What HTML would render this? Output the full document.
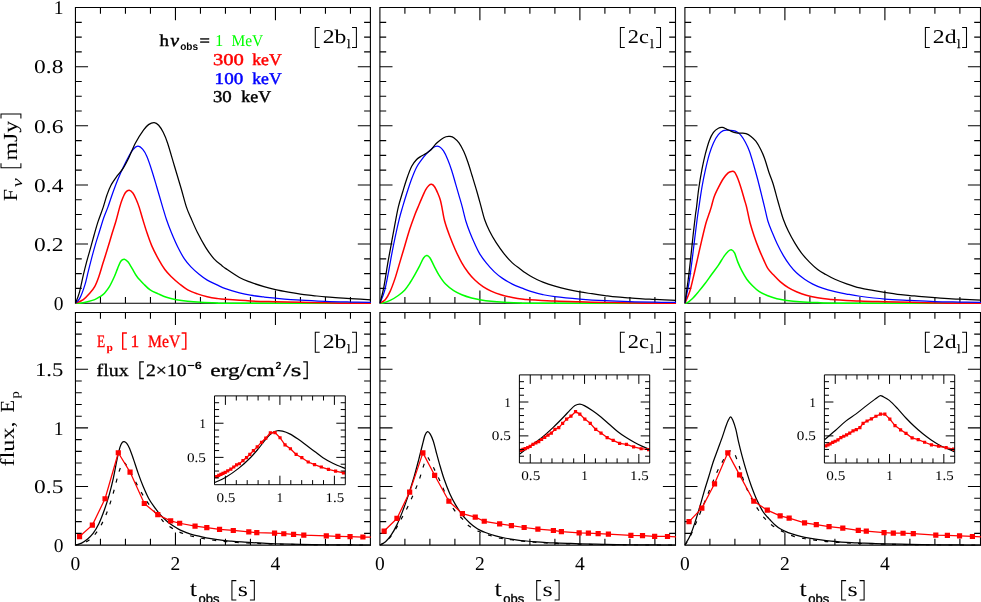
<!DOCTYPE html>
<html><head><meta charset="utf-8"><title>lightcurves</title>
<style>
html,body{margin:0;padding:0;background:#fff;}
body{width:981px;height:602px;overflow:hidden;font-family:"Liberation Serif",serif;}
svg{display:block;}
text{text-rendering:geometricPrecision;}
</style></head><body>
<svg width="981" height="602" viewBox="0 0 981 602" style="will-change:transform;opacity:0.9999">
<rect width="981" height="602" fill="#fff"/>
<clipPath id="ct0"><rect x="74.95" y="7.55" width="295.95" height="296.35"/></clipPath>
<clipPath id="cb0"><rect x="74.95" y="312.50" width="295.95" height="233.30"/></clipPath>
<path d="M75.45,7.55 H370.40 V303.20 H75.45 Z" fill="none" stroke="#000" stroke-width="1.10"/>
<path d="M75.45,312.50 H370.40 V545.10 H75.45 Z" fill="none" stroke="#000" stroke-width="1.10"/>
<path d=" M100.45,303.20 v-6.30 M100.45,7.55 v6.30 M125.45,303.20 v-6.30 M125.45,7.55 v6.30 M150.45,303.20 v-6.30 M150.45,7.55 v6.30 M175.45,303.20 v-12.60 M175.45,7.55 v12.60 M200.45,303.20 v-6.30 M200.45,7.55 v6.30 M225.45,303.20 v-6.30 M225.45,7.55 v6.30 M250.45,303.20 v-6.30 M250.45,7.55 v6.30 M275.45,303.20 v-12.60 M275.45,7.55 v12.60 M300.45,303.20 v-6.30 M300.45,7.55 v6.30 M325.45,303.20 v-6.30 M325.45,7.55 v6.30 M350.45,303.20 v-6.30 M350.45,7.55 v6.30 M75.45,288.42 h6.30 M370.40,288.42 h-6.30 M75.45,273.63 h6.30 M370.40,273.63 h-6.30 M75.45,258.85 h6.30 M370.40,258.85 h-6.30 M75.45,244.07 h12.60 M370.40,244.07 h-12.60 M75.45,229.29 h6.30 M370.40,229.29 h-6.30 M75.45,214.50 h6.30 M370.40,214.50 h-6.30 M75.45,199.72 h6.30 M370.40,199.72 h-6.30 M75.45,184.94 h12.60 M370.40,184.94 h-12.60 M75.45,170.16 h6.30 M370.40,170.16 h-6.30 M75.45,155.38 h6.30 M370.40,155.38 h-6.30 M75.45,140.59 h6.30 M370.40,140.59 h-6.30 M75.45,125.81 h12.60 M370.40,125.81 h-12.60 M75.45,111.03 h6.30 M370.40,111.03 h-6.30 M75.45,96.24 h6.30 M370.40,96.24 h-6.30 M75.45,81.46 h6.30 M370.40,81.46 h-6.30 M75.45,66.68 h12.60 M370.40,66.68 h-12.60 M75.45,51.90 h6.30 M370.40,51.90 h-6.30 M75.45,37.12 h6.30 M370.40,37.12 h-6.30 M75.45,22.33 h6.30 M370.40,22.33 h-6.30" fill="none" stroke="#000" stroke-width="1.10"/>
<path d=" M100.45,545.10 v-6.30 M100.45,312.50 v6.30 M125.45,545.10 v-6.30 M125.45,312.50 v6.30 M150.45,545.10 v-6.30 M150.45,312.50 v6.30 M175.45,545.10 v-12.60 M175.45,312.50 v12.60 M200.45,545.10 v-6.30 M200.45,312.50 v6.30 M225.45,545.10 v-6.30 M225.45,312.50 v6.30 M250.45,545.10 v-6.30 M250.45,312.50 v6.30 M275.45,545.10 v-12.60 M275.45,312.50 v12.60 M300.45,545.10 v-6.30 M300.45,312.50 v6.30 M325.45,545.10 v-6.30 M325.45,312.50 v6.30 M350.45,545.10 v-6.30 M350.45,312.50 v6.30 M75.45,533.38 h6.30 M370.40,533.38 h-6.30 M75.45,521.66 h6.30 M370.40,521.66 h-6.30 M75.45,509.94 h6.30 M370.40,509.94 h-6.30 M75.45,498.22 h6.30 M370.40,498.22 h-6.30 M75.45,486.50 h12.60 M370.40,486.50 h-12.60 M75.45,474.78 h6.30 M370.40,474.78 h-6.30 M75.45,463.06 h6.30 M370.40,463.06 h-6.30 M75.45,451.34 h6.30 M370.40,451.34 h-6.30 M75.45,439.62 h6.30 M370.40,439.62 h-6.30 M75.45,427.90 h12.60 M370.40,427.90 h-12.60 M75.45,416.18 h6.30 M370.40,416.18 h-6.30 M75.45,404.46 h6.30 M370.40,404.46 h-6.30 M75.45,392.74 h6.30 M370.40,392.74 h-6.30 M75.45,381.02 h6.30 M370.40,381.02 h-6.30 M75.45,369.30 h12.60 M370.40,369.30 h-12.60 M75.45,357.58 h6.30 M370.40,357.58 h-6.30 M75.45,345.86 h6.30 M370.40,345.86 h-6.30 M75.45,334.14 h6.30 M370.40,334.14 h-6.30 M75.45,322.42 h6.30 M370.40,322.42 h-6.30" fill="none" stroke="#000" stroke-width="1.10"/>
<g clip-path="url(#ct0)" fill="none" stroke-width="1.25" stroke-linejoin="round">
<path d="M75.45,303.20 C76.21,303.20 78.15,303.40 80.00,303.20 C81.85,303.00 84.10,302.61 86.55,302.02 C89.00,301.43 92.39,300.59 94.70,299.65 C97.01,298.72 98.77,297.48 100.40,296.40 C102.03,295.32 103.00,294.77 104.50,293.15 C106.00,291.52 107.77,289.38 109.40,286.64 C111.03,283.91 112.94,279.75 114.30,276.74 C115.66,273.73 116.47,271.20 117.55,268.61 C118.63,266.02 119.66,262.79 120.80,261.22 C121.94,259.64 123.18,259.00 124.40,259.15 C125.62,259.30 126.85,260.53 128.15,262.10 C129.45,263.68 130.71,266.17 132.20,268.61 C133.69,271.05 135.19,274.18 137.10,276.74 C139.01,279.30 141.48,281.79 143.65,283.98 C145.82,286.18 147.71,288.25 150.15,289.90 C152.59,291.55 155.58,292.66 158.30,293.89 C161.02,295.12 163.46,296.33 166.45,297.29 C169.44,298.25 172.71,298.99 176.25,299.65 C179.79,300.31 183.62,300.82 187.70,301.25 C191.78,301.68 195.86,301.95 200.75,302.22 C205.64,302.50 212.10,302.74 217.05,302.90 C222.00,303.07 204.63,303.15 230.45,303.20 C256.27,303.25 348.37,303.20 371.95,303.20" stroke="#00ff00" stroke-width="1.5"/>
<path d="M75.45,303.20 C76.76,302.61 80.91,301.33 83.30,299.65 C85.69,297.98 87.90,295.32 89.80,293.15 C91.70,290.98 93.20,289.38 94.70,286.64 C96.20,283.91 97.44,280.58 98.80,276.74 C100.16,272.90 101.49,267.94 102.85,263.58 C104.21,259.22 105.45,255.45 106.95,250.57 C108.45,245.70 110.36,239.19 111.85,234.31 C113.34,229.44 114.59,225.84 115.90,221.30 C117.21,216.77 118.61,210.86 119.70,207.11 C120.79,203.37 121.45,201.30 122.45,198.84 C123.45,196.37 124.56,193.76 125.70,192.33 C126.84,190.90 128.08,190.11 129.30,190.26 C130.53,190.41 131.88,191.64 133.05,193.22 C134.22,194.79 135.28,197.41 136.30,199.72 C137.32,202.04 138.07,203.81 139.15,207.11 C140.23,210.42 141.51,215.29 142.80,219.53 C144.09,223.77 145.40,228.15 146.90,232.54 C148.40,236.93 149.90,241.46 151.80,245.84 C153.70,250.23 156.12,254.91 158.30,258.85 C160.48,262.79 162.68,266.51 164.85,269.50 C167.03,272.48 168.90,274.32 171.35,276.74 C173.80,279.15 176.83,281.79 179.55,283.98 C182.28,286.18 184.72,288.25 187.70,289.90 C190.68,291.55 194.19,292.75 197.45,293.89 C200.71,295.02 203.98,295.93 207.25,296.70 C210.52,297.46 214.02,298.03 217.05,298.47 C220.08,298.91 219.88,298.94 225.45,299.36 C231.02,299.78 242.12,300.59 250.45,300.98 C258.78,301.38 267.12,301.50 275.45,301.72 C283.78,301.94 292.12,302.13 300.45,302.31 C308.78,302.50 317.95,302.70 325.45,302.85 C332.95,302.99 337.70,303.14 345.45,303.20 C353.20,303.26 367.53,303.20 371.95,303.20" stroke="#ff0000" stroke-width="1.5"/>
<path d="M75.45,303.20 C76.21,302.31 78.42,300.93 80.00,297.88 C81.58,294.82 83.54,289.21 84.90,284.87 C86.26,280.53 87.06,276.20 88.15,271.86 C89.24,267.52 90.23,263.48 91.45,258.85 C92.67,254.22 94.14,248.70 95.50,244.07 C96.86,239.44 98.24,235.40 99.60,231.06 C100.96,226.73 102.27,222.04 103.65,218.05 C105.03,214.06 106.40,211.25 107.90,207.11 C109.40,202.97 111.04,197.70 112.65,193.22 C114.26,188.73 115.78,184.55 117.55,180.21 C119.32,175.87 121.35,171.24 123.25,167.20 C125.15,163.16 127.32,158.92 128.95,155.97 C130.58,153.01 131.55,151.09 133.05,149.46 C134.55,147.84 136.32,146.21 137.95,146.21 C139.57,146.21 141.31,147.74 142.80,149.46 C144.29,151.19 145.40,153.06 146.90,156.56 C148.40,160.06 150.17,165.43 151.80,170.45 C153.43,175.48 154.89,180.60 156.70,186.71 C158.51,192.82 161.03,201.64 162.65,207.11 C164.28,212.58 165.00,215.29 166.45,219.53 C167.90,223.77 169.44,227.91 171.35,232.54 C173.26,237.17 175.73,242.94 177.90,247.32 C180.07,251.71 182.22,255.60 184.40,258.85 C186.57,262.10 188.50,264.27 190.95,266.84 C193.40,269.40 196.38,272.01 199.10,274.23 C201.82,276.44 204.26,278.37 207.25,280.14 C210.24,281.91 214.02,283.44 217.05,284.87 C220.08,286.30 221.72,287.38 225.45,288.71 C229.18,290.04 235.28,291.77 239.45,292.85 C243.62,293.94 246.37,294.53 250.45,295.22 C254.53,295.91 259.78,296.50 263.95,296.99 C268.12,297.48 269.37,297.63 275.45,298.17 C281.53,298.72 292.12,299.70 300.45,300.24 C308.78,300.79 317.12,301.13 325.45,301.43 C333.78,301.72 342.70,301.87 350.45,302.02 C358.20,302.17 368.37,302.26 371.95,302.31" stroke="#0000ff"/>
<path d="M75.45,303.20 C76.08,301.52 77.89,297.83 79.20,293.15 C80.51,288.47 82.08,280.29 83.30,275.11 C84.52,269.94 85.47,266.19 86.55,262.10 C87.63,258.01 88.57,254.96 89.80,250.57 C91.03,246.19 92.54,240.57 93.90,235.79 C95.26,231.01 96.39,226.68 97.95,221.90 C99.51,217.12 101.75,211.60 103.25,207.11 C104.75,202.63 105.66,198.64 106.95,194.99 C108.24,191.35 109.23,188.49 111.00,185.24 C112.77,181.98 115.51,178.34 117.55,175.48 C119.59,172.62 121.35,171.09 123.25,168.09 C125.15,165.08 126.92,161.63 128.95,157.44 C130.98,153.26 133.00,147.54 135.45,142.96 C137.90,138.38 141.47,133.00 143.65,129.95 C145.83,126.89 146.79,125.86 148.55,124.63 C150.31,123.40 152.52,122.46 154.20,122.56 C155.88,122.66 157.15,123.59 158.65,125.22 C160.15,126.84 161.72,129.36 163.20,132.31 C164.68,135.27 165.69,137.39 167.55,142.96 C169.41,148.53 172.08,158.13 174.35,165.72 C176.62,173.31 179.13,181.59 181.15,188.49 C183.17,195.39 184.82,202.19 186.45,207.11 C188.08,212.04 189.12,213.82 190.95,218.05 C192.78,222.29 195.00,227.66 197.45,232.54 C199.90,237.42 202.93,242.99 205.65,247.32 C208.38,251.66 211.08,255.49 213.80,258.56 C216.52,261.62 220.01,264.08 221.95,265.71 C223.89,267.35 222.53,266.41 225.45,268.37 C228.37,270.33 235.28,275.17 239.45,277.48 C243.62,279.78 246.37,280.68 250.45,282.21 C254.53,283.74 259.78,285.41 263.95,286.64 C268.12,287.88 271.37,288.69 275.45,289.60 C279.53,290.51 284.28,291.37 288.45,292.11 C292.62,292.85 296.37,293.47 300.45,294.03 C304.53,294.60 308.78,295.02 312.95,295.51 C317.12,296.01 321.12,296.60 325.45,296.99 C329.78,297.39 334.78,297.62 338.95,297.88 C343.12,298.14 344.95,298.21 350.45,298.56 C355.95,298.90 368.37,299.72 371.95,299.95" stroke="#000"/>
</g>
<g clip-path="url(#cb0)" fill="none" stroke-width="1.25" stroke-linejoin="round">
<path d="M75.45,545.10 C76.66,544.82 80.41,544.29 82.70,543.43 C84.99,542.57 87.12,541.48 89.20,539.93 C91.28,538.37 93.28,536.43 95.20,534.09 C97.12,531.76 98.95,529.04 100.70,525.92 C102.45,522.81 104.12,519.21 105.70,515.42 C107.28,511.63 108.78,507.45 110.20,503.17 C111.62,498.89 112.95,494.22 114.20,489.75 C115.45,485.28 116.66,480.02 117.70,476.33 C118.74,472.63 119.62,469.81 120.45,467.58 C121.28,465.34 121.99,463.69 122.70,462.91 C123.41,462.13 123.95,462.33 124.70,462.91 C125.45,463.49 126.12,464.66 127.20,466.41 C128.28,468.16 129.70,470.63 131.20,473.41 C132.70,476.19 134.20,479.38 136.20,483.10 C138.20,486.81 141.28,492.45 143.20,495.70 C145.12,498.95 145.87,499.98 147.70,502.59 C149.53,505.19 151.95,508.61 154.20,511.34 C156.45,514.06 159.30,516.85 161.20,518.92 C163.10,520.99 163.17,521.87 165.60,523.77 C168.03,525.67 172.40,528.53 175.80,530.33 C179.20,532.13 182.43,533.39 186.00,534.58 C189.57,535.76 193.46,536.61 197.20,537.42 C200.94,538.24 204.63,538.88 208.45,539.47 C212.27,540.07 216.28,540.56 220.10,541.00 C223.92,541.44 227.52,541.81 231.35,542.11 C235.18,542.42 239.28,542.62 243.10,542.83 C246.93,543.03 248.91,543.14 254.30,543.34 C259.69,543.55 267.76,543.83 275.45,544.05 C283.14,544.26 292.12,544.47 300.45,544.63 C308.78,544.79 313.53,544.90 325.45,544.98 C337.37,545.06 364.20,545.08 371.95,545.10" stroke="#000" stroke-dasharray="3.9 7.4" stroke-width="1.2"/>
<path d="M75.45,545.10 C76.47,544.76 79.58,544.06 81.55,543.08 C83.52,542.10 85.38,540.84 87.30,539.23 C89.22,537.61 91.17,535.97 93.10,533.39 C95.02,530.82 96.93,527.78 98.85,523.77 C100.77,519.75 102.83,514.28 104.60,509.30 C106.37,504.31 108.00,498.98 109.45,493.83 C110.90,488.69 112.03,484.21 113.30,478.43 C114.58,472.65 115.98,464.39 117.10,459.17 C118.22,453.96 119.13,449.94 120.00,447.15 C120.87,444.37 121.60,443.40 122.30,442.49 C123.00,441.57 123.46,441.53 124.20,441.67 C124.94,441.81 125.85,442.16 126.75,443.30 C127.65,444.45 128.48,445.91 129.60,448.56 C130.72,451.20 132.00,454.99 133.45,459.17 C134.90,463.36 136.69,469.13 138.30,473.64 C139.91,478.16 141.34,482.07 143.10,486.25 C144.86,490.43 146.93,495.21 148.85,498.73 C150.77,502.25 152.63,504.64 154.60,507.37 C156.57,510.10 158.68,512.87 160.65,515.10 C162.62,517.32 164.77,519.24 166.40,520.72 C168.03,522.21 168.94,522.91 170.45,524.00 C171.96,525.10 173.79,526.27 175.45,527.29 C177.11,528.30 177.88,528.97 180.40,530.10 C182.93,531.23 187.20,533.00 190.60,534.08 C194.00,535.17 197.41,535.84 200.80,536.60 C204.19,537.36 207.56,538.06 210.95,538.65 C214.34,539.25 217.75,539.75 221.15,540.18 C224.55,540.60 227.95,540.89 231.35,541.20 C234.75,541.50 238.15,541.76 241.55,541.99 C244.95,542.22 248.18,542.38 251.75,542.58 C255.32,542.78 259.00,542.97 262.95,543.17 C266.90,543.36 269.20,543.55 275.45,543.75 C281.70,543.96 292.12,544.23 300.45,544.40 C308.78,544.56 317.12,544.65 325.45,544.75 C333.78,544.85 342.70,544.92 350.45,544.98 C358.20,545.04 368.37,545.08 371.95,545.10" stroke="#000"/>
<path d="M79.55,536.54 L92.35,525.11 L105.05,498.73 L118.30,452.76 L130.05,472.07 L144.30,503.52 L157.80,514.72 L170.65,520.91 L179.65,523.24 L195.05,526.04 L206.80,527.68 L219.55,529.31 L233.30,530.48 L248.80,531.88 L256.80,532.58 L274.55,533.22 L283.80,533.74 L293.55,534.37 L303.80,535.03 L326.30,535.84 L337.90,536.31 L350.05,536.66 L362.90,537.01 L371.55,537.24" stroke="#ff0000"/>
<path d="M76.95,533.94h5.2v5.2h-5.2zM89.75,522.51h5.2v5.2h-5.2zM102.45,496.13h5.2v5.2h-5.2zM115.70,450.16h5.2v5.2h-5.2zM127.45,469.47h5.2v5.2h-5.2zM141.70,500.92h5.2v5.2h-5.2zM155.20,512.12h5.2v5.2h-5.2zM168.05,518.31h5.2v5.2h-5.2zM177.05,520.64h5.2v5.2h-5.2zM192.45,523.44h5.2v5.2h-5.2zM204.20,525.08h5.2v5.2h-5.2zM216.95,526.71h5.2v5.2h-5.2zM230.70,527.88h5.2v5.2h-5.2zM246.20,529.28h5.2v5.2h-5.2zM254.20,529.98h5.2v5.2h-5.2zM271.95,530.62h5.2v5.2h-5.2zM281.20,531.14h5.2v5.2h-5.2zM290.95,531.77h5.2v5.2h-5.2zM301.20,532.43h5.2v5.2h-5.2zM323.70,533.24h5.2v5.2h-5.2zM335.30,533.71h5.2v5.2h-5.2zM347.45,534.06h5.2v5.2h-5.2zM360.30,534.41h5.2v5.2h-5.2z" fill="#ff0000" stroke="none"/>
</g>
<text x="75.45" y="569.60" font-family="Liberation Serif" font-size="19.5" text-anchor="middle" fill="#000" font-weight="normal" >0</text>
<text x="175.45" y="569.60" font-family="Liberation Serif" font-size="19.5" text-anchor="middle" fill="#000" font-weight="normal" >2</text>
<text x="275.45" y="569.60" font-family="Liberation Serif" font-size="19.5" text-anchor="middle" fill="#000" font-weight="normal" >4</text>
<text x="189.83" y="595.90" font-family="Liberation Serif" font-size="22.0" text-anchor="start" fill="#000" font-weight="normal" textLength="7.3" lengthAdjust="spacingAndGlyphs" >t</text>
<text x="198.53" y="602.50" font-family="Liberation Sans" font-size="12.5" text-anchor="start" fill="#000" font-weight="normal" textLength="21.0" lengthAdjust="spacingAndGlyphs" stroke="#000" stroke-width="0.35" >obs</text>
<path d="M236.33,580.60 h-4.40 v19.40 h4.40" fill="none" stroke="#000" stroke-width="1.05"/>
<text x="237.73" y="595.90" font-family="Liberation Serif" font-size="20.0" text-anchor="start" fill="#000" font-weight="normal" textLength="10.2" lengthAdjust="spacingAndGlyphs" >s</text>
<path d="M249.93,580.60 h4.40 v19.40 h-4.40" fill="none" stroke="#000" stroke-width="1.05"/>
<path d="M319.70,27.50 h-4.40 v19.90 h4.40" fill="none" stroke="#000" stroke-width="1.05"/>
<text x="322.70" y="43.10" font-family="Liberation Serif" font-size="19.5" text-anchor="start" fill="#000" font-weight="normal" textLength="23.7" lengthAdjust="spacingAndGlyphs" >2b</text>
<text x="347.00" y="48.30" font-family="Liberation Serif" font-size="12.5" text-anchor="start" fill="#000" font-weight="normal" stroke="#000" stroke-width="0.25" >l</text>
<path d="M352.00,27.50 h4.40 v19.90 h-4.40" fill="none" stroke="#000" stroke-width="1.05"/>
<path d="M319.70,332.30 h-4.40 v19.90 h4.40" fill="none" stroke="#000" stroke-width="1.05"/>
<text x="322.70" y="347.90" font-family="Liberation Serif" font-size="19.5" text-anchor="start" fill="#000" font-weight="normal" textLength="23.7" lengthAdjust="spacingAndGlyphs" >2b</text>
<text x="347.00" y="353.10" font-family="Liberation Serif" font-size="12.5" text-anchor="start" fill="#000" font-weight="normal" stroke="#000" stroke-width="0.25" >l</text>
<path d="M352.00,332.30 h4.40 v19.90 h-4.40" fill="none" stroke="#000" stroke-width="1.05"/>
<clipPath id="ct1"><rect x="379.40" y="7.55" width="296.60" height="296.35"/></clipPath>
<clipPath id="cb1"><rect x="379.40" y="312.50" width="296.60" height="233.30"/></clipPath>
<path d="M379.90,7.55 H675.50 V303.20 H379.90 Z" fill="none" stroke="#000" stroke-width="1.10"/>
<path d="M379.90,312.50 H675.50 V545.10 H379.90 Z" fill="none" stroke="#000" stroke-width="1.10"/>
<path d=" M404.90,303.20 v-6.30 M404.90,7.55 v6.30 M429.90,303.20 v-6.30 M429.90,7.55 v6.30 M454.90,303.20 v-6.30 M454.90,7.55 v6.30 M479.90,303.20 v-12.60 M479.90,7.55 v12.60 M504.90,303.20 v-6.30 M504.90,7.55 v6.30 M529.90,303.20 v-6.30 M529.90,7.55 v6.30 M554.90,303.20 v-6.30 M554.90,7.55 v6.30 M579.90,303.20 v-12.60 M579.90,7.55 v12.60 M604.90,303.20 v-6.30 M604.90,7.55 v6.30 M629.90,303.20 v-6.30 M629.90,7.55 v6.30 M654.90,303.20 v-6.30 M654.90,7.55 v6.30 M379.90,288.42 h6.30 M675.50,288.42 h-6.30 M379.90,273.63 h6.30 M675.50,273.63 h-6.30 M379.90,258.85 h6.30 M675.50,258.85 h-6.30 M379.90,244.07 h12.60 M675.50,244.07 h-12.60 M379.90,229.29 h6.30 M675.50,229.29 h-6.30 M379.90,214.50 h6.30 M675.50,214.50 h-6.30 M379.90,199.72 h6.30 M675.50,199.72 h-6.30 M379.90,184.94 h12.60 M675.50,184.94 h-12.60 M379.90,170.16 h6.30 M675.50,170.16 h-6.30 M379.90,155.38 h6.30 M675.50,155.38 h-6.30 M379.90,140.59 h6.30 M675.50,140.59 h-6.30 M379.90,125.81 h12.60 M675.50,125.81 h-12.60 M379.90,111.03 h6.30 M675.50,111.03 h-6.30 M379.90,96.24 h6.30 M675.50,96.24 h-6.30 M379.90,81.46 h6.30 M675.50,81.46 h-6.30 M379.90,66.68 h12.60 M675.50,66.68 h-12.60 M379.90,51.90 h6.30 M675.50,51.90 h-6.30 M379.90,37.12 h6.30 M675.50,37.12 h-6.30 M379.90,22.33 h6.30 M675.50,22.33 h-6.30" fill="none" stroke="#000" stroke-width="1.10"/>
<path d=" M404.90,545.10 v-6.30 M404.90,312.50 v6.30 M429.90,545.10 v-6.30 M429.90,312.50 v6.30 M454.90,545.10 v-6.30 M454.90,312.50 v6.30 M479.90,545.10 v-12.60 M479.90,312.50 v12.60 M504.90,545.10 v-6.30 M504.90,312.50 v6.30 M529.90,545.10 v-6.30 M529.90,312.50 v6.30 M554.90,545.10 v-6.30 M554.90,312.50 v6.30 M579.90,545.10 v-12.60 M579.90,312.50 v12.60 M604.90,545.10 v-6.30 M604.90,312.50 v6.30 M629.90,545.10 v-6.30 M629.90,312.50 v6.30 M654.90,545.10 v-6.30 M654.90,312.50 v6.30 M379.90,533.38 h6.30 M675.50,533.38 h-6.30 M379.90,521.66 h6.30 M675.50,521.66 h-6.30 M379.90,509.94 h6.30 M675.50,509.94 h-6.30 M379.90,498.22 h6.30 M675.50,498.22 h-6.30 M379.90,486.50 h12.60 M675.50,486.50 h-12.60 M379.90,474.78 h6.30 M675.50,474.78 h-6.30 M379.90,463.06 h6.30 M675.50,463.06 h-6.30 M379.90,451.34 h6.30 M675.50,451.34 h-6.30 M379.90,439.62 h6.30 M675.50,439.62 h-6.30 M379.90,427.90 h12.60 M675.50,427.90 h-12.60 M379.90,416.18 h6.30 M675.50,416.18 h-6.30 M379.90,404.46 h6.30 M675.50,404.46 h-6.30 M379.90,392.74 h6.30 M675.50,392.74 h-6.30 M379.90,381.02 h6.30 M675.50,381.02 h-6.30 M379.90,369.30 h12.60 M675.50,369.30 h-12.60 M379.90,357.58 h6.30 M675.50,357.58 h-6.30 M379.90,345.86 h6.30 M675.50,345.86 h-6.30 M379.90,334.14 h6.30 M675.50,334.14 h-6.30 M379.90,322.42 h6.30 M675.50,322.42 h-6.30" fill="none" stroke="#000" stroke-width="1.10"/>
<g clip-path="url(#ct1)" fill="none" stroke-width="1.25" stroke-linejoin="round">
<path d="M379.90,303.20 C380.27,303.20 380.44,303.66 382.15,303.20 C383.86,302.74 387.46,301.70 390.15,300.42 C392.84,299.14 395.86,297.27 398.30,295.51 C400.74,293.76 402.90,291.94 404.80,289.90 C406.70,287.86 408.07,285.74 409.70,283.27 C411.33,280.81 412.97,277.97 414.60,275.11 C416.23,272.26 418.01,268.98 419.50,266.13 C420.99,263.27 422.33,259.72 423.55,257.97 C424.77,256.21 425.72,255.60 426.80,255.60 C427.88,255.60 428.82,256.21 430.05,257.97 C431.27,259.72 432.66,263.27 434.15,266.13 C435.64,268.98 437.10,272.12 439.00,275.11 C440.90,278.11 443.10,281.51 445.55,284.10 C448.00,286.69 450.99,288.87 453.70,290.63 C456.41,292.40 458.82,293.49 461.80,294.71 C464.78,295.94 468.61,297.14 471.60,297.97 C474.59,298.79 476.49,299.11 479.75,299.65 C483.01,300.20 487.08,300.82 491.15,301.25 C495.22,301.68 499.27,301.95 504.15,302.22 C509.03,302.50 515.33,302.74 520.45,302.90 C525.58,303.07 508.91,303.15 534.90,303.20 C560.89,303.25 652.82,303.20 676.40,303.20" stroke="#00ff00" stroke-width="1.5"/>
<path d="M379.90,303.20 C380.79,302.61 383.54,301.62 385.25,299.65 C386.96,297.68 388.52,294.92 390.15,291.37 C391.78,287.83 393.42,283.24 395.05,278.37 C396.67,273.49 398.27,267.55 399.90,262.10 C401.52,256.66 403.17,251.17 404.80,245.70 C406.43,240.23 408.07,234.34 409.70,229.29 C411.33,224.24 413.22,219.09 414.60,215.39 C415.98,211.70 416.85,209.87 418.00,207.11 C419.15,204.35 420.23,201.69 421.50,198.84 C422.77,195.98 424.38,192.18 425.60,189.97 C426.82,187.75 427.85,186.47 428.85,185.53 C429.85,184.60 430.65,184.15 431.60,184.35 C432.55,184.55 433.52,185.24 434.55,186.71 C435.58,188.19 436.85,191.05 437.80,193.22 C438.75,195.39 439.57,197.41 440.25,199.72 C440.93,202.04 441.16,203.52 441.90,207.11 C442.64,210.71 443.42,216.53 444.70,221.30 C445.98,226.08 447.83,231.06 449.60,235.79 C451.37,240.52 453.27,245.18 455.30,249.69 C457.33,254.20 459.62,259.00 461.80,262.84 C463.97,266.69 466.17,269.89 468.35,272.75 C470.52,275.61 472.41,277.68 474.85,279.99 C477.29,282.31 480.28,284.80 483.00,286.64 C485.72,288.49 488.17,289.73 491.15,291.08 C494.13,292.42 497.38,293.65 500.90,294.71 C504.42,295.78 508.50,296.74 512.30,297.49 C516.10,298.25 520.77,298.91 523.70,299.27 C526.63,299.63 524.70,299.35 529.90,299.65 C535.10,299.95 546.57,300.70 554.90,301.07 C563.23,301.44 571.57,301.64 579.90,301.87 C588.23,302.10 596.57,302.29 604.90,302.46 C613.23,302.63 622.40,302.78 629.90,302.90 C637.40,303.03 642.15,303.15 649.90,303.20 C657.65,303.25 671.98,303.20 676.40,303.20" stroke="#ff0000" stroke-width="1.5"/>
<path d="M379.90,303.20 C380.66,301.23 383.01,296.60 384.45,291.37 C385.89,286.15 387.32,278.12 388.55,271.86 C389.77,265.60 390.72,259.54 391.80,253.83 C392.88,248.11 393.83,243.28 395.05,237.57 C396.27,231.85 397.85,224.61 399.10,219.53 C400.35,214.46 401.27,211.50 402.55,207.11 C403.83,202.73 405.27,197.95 406.80,193.22 C408.32,188.49 410.07,183.07 411.70,178.73 C413.33,174.40 414.97,170.35 416.60,167.20 C418.23,164.05 419.87,162.03 421.50,159.81 C423.13,157.59 424.77,155.67 426.40,153.90 C428.03,152.12 429.81,150.40 431.30,149.17 C432.79,147.93 433.99,146.90 435.35,146.51 C436.71,146.11 438.09,146.06 439.45,146.80 C440.81,147.54 442.14,148.87 443.50,150.94 C444.86,153.01 446.23,155.97 447.60,159.22 C448.97,162.47 450.34,166.26 451.70,170.45 C453.06,174.64 454.53,180.16 455.75,184.35 C456.97,188.54 457.91,191.79 459.00,195.58 C460.09,199.38 461.15,202.83 462.30,207.11 C463.45,211.40 464.63,217.07 465.90,221.30 C467.17,225.54 468.41,228.75 469.90,232.54 C471.39,236.33 473.21,240.52 474.85,244.07 C476.49,247.62 477.85,250.70 479.75,253.83 C481.65,256.96 483.81,259.84 486.25,262.84 C488.69,265.85 491.68,269.27 494.40,271.86 C497.12,274.45 499.57,276.33 502.55,278.37 C505.53,280.41 509.04,282.47 512.30,284.10 C515.56,285.74 519.17,287.02 522.10,288.18 C525.03,289.34 526.43,290.00 529.90,291.08 C533.37,292.15 538.73,293.69 542.90,294.63 C547.07,295.56 548.73,295.96 554.90,296.70 C561.07,297.43 571.57,298.39 579.90,299.06 C588.23,299.73 596.57,300.27 604.90,300.72 C613.23,301.16 621.57,301.48 629.90,301.72 C638.23,301.97 647.15,302.09 654.90,302.19 C662.65,302.30 672.82,302.34 676.40,302.37" stroke="#0000ff"/>
<path d="M379.90,303.20 C380.52,300.69 382.35,294.72 383.65,288.12 C384.95,281.52 386.48,270.63 387.70,263.58 C388.92,256.54 389.86,251.81 390.95,245.84 C392.04,239.88 393.02,234.26 394.25,227.81 C395.48,221.35 396.88,213.13 398.30,207.11 C399.72,201.10 401.33,196.47 402.75,191.74 C404.17,187.01 405.31,182.97 406.80,178.73 C408.29,174.49 410.07,169.52 411.70,166.31 C413.33,163.11 414.97,161.24 416.60,159.51 C418.23,157.79 419.87,157.00 421.50,155.97 C423.13,154.93 424.77,154.39 426.40,153.31 C428.03,152.22 429.67,151.09 431.30,149.46 C432.93,147.84 434.57,145.22 436.20,143.55 C437.82,141.87 439.42,140.54 441.05,139.41 C442.67,138.28 444.45,137.24 445.95,136.75 C447.45,136.26 448.69,136.26 450.05,136.45 C451.41,136.65 452.61,136.85 454.10,137.93 C455.59,139.02 457.37,140.64 459.00,142.96 C460.63,145.27 462.40,148.58 463.90,151.83 C465.40,155.08 466.64,158.53 468.00,162.47 C469.36,166.41 470.56,170.60 472.05,175.48 C473.54,180.36 475.43,186.47 476.95,191.74 C478.47,197.01 479.92,202.48 481.20,207.11 C482.47,211.75 483.22,215.54 484.60,219.53 C485.98,223.52 487.60,227.24 489.50,231.06 C491.40,234.88 493.56,238.65 496.00,242.44 C498.44,246.24 501.43,250.43 504.15,253.83 C506.87,257.23 509.58,260.28 512.30,262.84 C515.02,265.41 518.35,267.57 520.45,269.20 C522.55,270.83 523.33,271.52 524.90,272.60 C526.47,273.68 527.98,274.60 529.90,275.70 C531.82,276.81 534.23,278.17 536.40,279.25 C538.57,280.34 539.82,281.06 542.90,282.21 C545.98,283.36 550.82,284.93 554.90,286.14 C558.98,287.35 563.23,288.48 567.40,289.45 C571.57,290.42 575.82,291.25 579.90,291.97 C583.98,292.68 587.73,293.14 591.90,293.74 C596.07,294.34 600.82,295.03 604.90,295.57 C608.98,296.11 612.23,296.61 616.40,296.99 C620.57,297.38 625.57,297.58 629.90,297.88 C634.23,298.17 638.23,298.52 642.40,298.77 C646.57,299.01 649.23,299.09 654.90,299.36 C660.57,299.63 672.82,300.22 676.40,300.39" stroke="#000"/>
</g>
<g clip-path="url(#cb1)" fill="none" stroke-width="1.25" stroke-linejoin="round">
<path d="M379.90,545.10 C381.22,544.24 385.15,542.63 387.80,539.93 C390.45,537.23 393.63,532.27 395.80,528.90 C397.97,525.54 399.13,522.76 400.80,519.74 C402.47,516.72 404.13,514.02 405.80,510.75 C407.47,507.49 409.30,503.44 410.80,500.13 C412.30,496.83 413.42,494.24 414.80,490.92 C416.18,487.59 417.55,484.65 419.10,480.18 C420.65,475.71 422.90,467.64 424.10,464.08 C425.30,460.52 425.68,459.89 426.30,458.82 C426.92,457.75 427.34,457.58 427.80,457.66 C428.26,457.74 428.10,457.64 429.05,459.29 C430.00,460.94 431.64,463.86 433.50,467.58 C435.36,471.29 438.07,476.91 440.20,481.58 C442.33,486.25 444.08,491.02 446.30,495.58 C448.52,500.14 450.90,505.15 453.50,508.95 C456.10,512.74 459.47,515.67 461.90,518.38 C464.32,521.08 465.32,523.02 468.05,525.18 C470.77,527.33 474.77,529.64 478.25,531.31 C481.73,532.97 485.30,534.03 488.95,535.18 C492.60,536.34 496.41,537.48 500.15,538.24 C503.89,539.01 507.66,539.28 511.40,539.77 C515.14,540.26 518.78,540.79 522.60,541.20 C526.42,541.61 530.50,541.93 534.30,542.22 C538.10,542.51 541.32,542.71 545.40,542.93 C549.48,543.16 553.00,543.37 558.75,543.58 C564.50,543.78 572.21,543.97 579.90,544.16 C587.59,544.36 596.57,544.61 604.90,544.75 C613.23,544.89 617.98,544.92 629.90,544.98 C641.82,545.04 668.65,545.08 676.40,545.10" stroke="#000" stroke-dasharray="3.9 7.4" stroke-width="1.2"/>
<path d="M379.90,545.10 C380.84,544.56 383.66,543.53 385.55,541.84 C387.44,540.15 389.34,537.84 391.25,534.97 C393.16,532.10 395.08,528.66 397.00,524.64 C398.92,520.62 400.84,515.84 402.75,510.87 C404.66,505.90 406.54,500.56 408.45,494.83 C410.36,489.09 412.48,482.37 414.20,476.45 C415.92,470.52 417.46,464.45 418.80,459.29 C420.14,454.14 421.22,449.54 422.25,445.52 C423.28,441.50 424.12,437.51 425.00,435.19 C425.88,432.88 426.62,431.82 427.50,431.63 C428.38,431.45 429.29,432.53 430.25,434.08 C431.21,435.64 432.29,438.11 433.25,440.97 C434.21,443.83 434.97,447.43 436.00,451.24 C437.03,455.05 438.12,459.25 439.45,463.84 C440.78,468.43 442.27,473.80 444.00,478.78 C445.73,483.76 447.87,489.36 449.80,493.72 C451.73,498.07 453.68,501.57 455.60,504.90 C457.52,508.23 459.73,511.48 461.30,513.69 C462.87,515.90 463.53,516.56 465.00,518.14 C466.47,519.73 468.40,521.67 470.10,523.18 C471.80,524.70 473.50,526.04 475.20,527.23 C476.90,528.42 478.60,529.45 480.30,530.33 C482.00,531.22 482.85,531.60 485.40,532.52 C487.95,533.45 492.20,534.95 495.60,535.90 C499.00,536.85 502.42,537.60 505.80,538.24 C509.18,538.89 512.51,539.31 515.90,539.77 C519.29,540.23 522.74,540.64 526.15,541.00 C529.56,541.36 532.95,541.66 536.35,541.91 C539.75,542.17 543.15,542.35 546.55,542.52 C549.95,542.69 553.27,542.80 556.75,542.93 C560.23,543.07 563.54,543.20 567.40,543.34 C571.26,543.49 573.65,543.63 579.90,543.81 C586.15,543.99 596.57,544.24 604.90,544.40 C613.23,544.55 621.57,544.65 629.90,544.75 C638.23,544.85 647.15,544.92 654.90,544.98 C662.65,545.04 672.82,545.08 676.40,545.10" stroke="#000"/>
<path d="M384.15,531.06 L396.95,518.46 L409.65,492.08 L422.90,452.87 L434.65,475.33 L448.90,501.24 L462.40,513.67 L475.25,517.06 L484.25,521.26 L499.65,523.94 L511.40,525.57 L524.15,527.50 L537.90,529.15 L553.40,530.48 L561.40,531.64 L579.15,532.93 L588.40,533.07 L598.15,533.56 L608.40,534.21 L630.90,535.38 L642.50,535.67 L654.65,536.31 L667.50,536.49 L676.15,536.89" stroke="#ff0000"/>
<path d="M381.55,528.46h5.2v5.2h-5.2zM394.35,515.86h5.2v5.2h-5.2zM407.05,489.48h5.2v5.2h-5.2zM420.30,450.27h5.2v5.2h-5.2zM432.05,472.73h5.2v5.2h-5.2zM446.30,498.64h5.2v5.2h-5.2zM459.80,511.07h5.2v5.2h-5.2zM472.65,514.46h5.2v5.2h-5.2zM481.65,518.66h5.2v5.2h-5.2zM497.05,521.34h5.2v5.2h-5.2zM508.80,522.97h5.2v5.2h-5.2zM521.55,524.90h5.2v5.2h-5.2zM535.30,526.55h5.2v5.2h-5.2zM550.80,527.88h5.2v5.2h-5.2zM558.80,529.04h5.2v5.2h-5.2zM576.55,530.33h5.2v5.2h-5.2zM585.80,530.47h5.2v5.2h-5.2zM595.55,530.96h5.2v5.2h-5.2zM605.80,531.61h5.2v5.2h-5.2zM628.30,532.78h5.2v5.2h-5.2zM639.90,533.07h5.2v5.2h-5.2zM652.05,533.71h5.2v5.2h-5.2zM664.90,533.89h5.2v5.2h-5.2z" fill="#ff0000" stroke="none"/>
</g>
<text x="379.90" y="569.60" font-family="Liberation Serif" font-size="19.5" text-anchor="middle" fill="#000" font-weight="normal" >0</text>
<text x="479.90" y="569.60" font-family="Liberation Serif" font-size="19.5" text-anchor="middle" fill="#000" font-weight="normal" >2</text>
<text x="579.90" y="569.60" font-family="Liberation Serif" font-size="19.5" text-anchor="middle" fill="#000" font-weight="normal" >4</text>
<text x="494.60" y="595.90" font-family="Liberation Serif" font-size="22.0" text-anchor="start" fill="#000" font-weight="normal" textLength="7.3" lengthAdjust="spacingAndGlyphs" >t</text>
<text x="503.30" y="602.50" font-family="Liberation Sans" font-size="12.5" text-anchor="start" fill="#000" font-weight="normal" textLength="21.0" lengthAdjust="spacingAndGlyphs" stroke="#000" stroke-width="0.35" >obs</text>
<path d="M541.10,580.60 h-4.40 v19.40 h4.40" fill="none" stroke="#000" stroke-width="1.05"/>
<text x="542.50" y="595.90" font-family="Liberation Serif" font-size="20.0" text-anchor="start" fill="#000" font-weight="normal" textLength="10.2" lengthAdjust="spacingAndGlyphs" >s</text>
<path d="M554.70,580.60 h4.40 v19.40 h-4.40" fill="none" stroke="#000" stroke-width="1.05"/>
<path d="M624.80,27.50 h-4.40 v19.90 h4.40" fill="none" stroke="#000" stroke-width="1.05"/>
<text x="627.80" y="43.10" font-family="Liberation Serif" font-size="19.5" text-anchor="start" fill="#000" font-weight="normal" textLength="21.1" lengthAdjust="spacingAndGlyphs" >2c</text>
<text x="650.30" y="48.30" font-family="Liberation Serif" font-size="12.5" text-anchor="start" fill="#000" font-weight="normal" stroke="#000" stroke-width="0.25" >l</text>
<path d="M656.10,27.50 h4.40 v19.90 h-4.40" fill="none" stroke="#000" stroke-width="1.05"/>
<path d="M624.80,332.30 h-4.40 v19.90 h4.40" fill="none" stroke="#000" stroke-width="1.05"/>
<text x="627.80" y="347.90" font-family="Liberation Serif" font-size="19.5" text-anchor="start" fill="#000" font-weight="normal" textLength="21.1" lengthAdjust="spacingAndGlyphs" >2c</text>
<text x="650.30" y="353.10" font-family="Liberation Serif" font-size="12.5" text-anchor="start" fill="#000" font-weight="normal" stroke="#000" stroke-width="0.25" >l</text>
<path d="M656.10,332.30 h4.40 v19.90 h-4.40" fill="none" stroke="#000" stroke-width="1.05"/>
<clipPath id="ct2"><rect x="684.40" y="7.55" width="296.60" height="296.35"/></clipPath>
<clipPath id="cb2"><rect x="684.40" y="312.50" width="296.60" height="233.30"/></clipPath>
<path d="M684.90,7.55 H980.50 V303.20 H684.90 Z" fill="none" stroke="#000" stroke-width="1.10"/>
<path d="M684.90,312.50 H980.50 V545.10 H684.90 Z" fill="none" stroke="#000" stroke-width="1.10"/>
<path d=" M709.90,303.20 v-6.30 M709.90,7.55 v6.30 M734.90,303.20 v-6.30 M734.90,7.55 v6.30 M759.90,303.20 v-6.30 M759.90,7.55 v6.30 M784.90,303.20 v-12.60 M784.90,7.55 v12.60 M809.90,303.20 v-6.30 M809.90,7.55 v6.30 M834.90,303.20 v-6.30 M834.90,7.55 v6.30 M859.90,303.20 v-6.30 M859.90,7.55 v6.30 M884.90,303.20 v-12.60 M884.90,7.55 v12.60 M909.90,303.20 v-6.30 M909.90,7.55 v6.30 M934.90,303.20 v-6.30 M934.90,7.55 v6.30 M959.90,303.20 v-6.30 M959.90,7.55 v6.30 M684.90,288.42 h6.30 M980.50,288.42 h-6.30 M684.90,273.63 h6.30 M980.50,273.63 h-6.30 M684.90,258.85 h6.30 M980.50,258.85 h-6.30 M684.90,244.07 h12.60 M980.50,244.07 h-12.60 M684.90,229.29 h6.30 M980.50,229.29 h-6.30 M684.90,214.50 h6.30 M980.50,214.50 h-6.30 M684.90,199.72 h6.30 M980.50,199.72 h-6.30 M684.90,184.94 h12.60 M980.50,184.94 h-12.60 M684.90,170.16 h6.30 M980.50,170.16 h-6.30 M684.90,155.38 h6.30 M980.50,155.38 h-6.30 M684.90,140.59 h6.30 M980.50,140.59 h-6.30 M684.90,125.81 h12.60 M980.50,125.81 h-12.60 M684.90,111.03 h6.30 M980.50,111.03 h-6.30 M684.90,96.24 h6.30 M980.50,96.24 h-6.30 M684.90,81.46 h6.30 M980.50,81.46 h-6.30 M684.90,66.68 h12.60 M980.50,66.68 h-12.60 M684.90,51.90 h6.30 M980.50,51.90 h-6.30 M684.90,37.12 h6.30 M980.50,37.12 h-6.30 M684.90,22.33 h6.30 M980.50,22.33 h-6.30" fill="none" stroke="#000" stroke-width="1.10"/>
<path d=" M709.90,545.10 v-6.30 M709.90,312.50 v6.30 M734.90,545.10 v-6.30 M734.90,312.50 v6.30 M759.90,545.10 v-6.30 M759.90,312.50 v6.30 M784.90,545.10 v-12.60 M784.90,312.50 v12.60 M809.90,545.10 v-6.30 M809.90,312.50 v6.30 M834.90,545.10 v-6.30 M834.90,312.50 v6.30 M859.90,545.10 v-6.30 M859.90,312.50 v6.30 M884.90,545.10 v-12.60 M884.90,312.50 v12.60 M909.90,545.10 v-6.30 M909.90,312.50 v6.30 M934.90,545.10 v-6.30 M934.90,312.50 v6.30 M959.90,545.10 v-6.30 M959.90,312.50 v6.30 M684.90,533.38 h6.30 M980.50,533.38 h-6.30 M684.90,521.66 h6.30 M980.50,521.66 h-6.30 M684.90,509.94 h6.30 M980.50,509.94 h-6.30 M684.90,498.22 h6.30 M980.50,498.22 h-6.30 M684.90,486.50 h12.60 M980.50,486.50 h-12.60 M684.90,474.78 h6.30 M980.50,474.78 h-6.30 M684.90,463.06 h6.30 M980.50,463.06 h-6.30 M684.90,451.34 h6.30 M980.50,451.34 h-6.30 M684.90,439.62 h6.30 M980.50,439.62 h-6.30 M684.90,427.90 h12.60 M980.50,427.90 h-12.60 M684.90,416.18 h6.30 M980.50,416.18 h-6.30 M684.90,404.46 h6.30 M980.50,404.46 h-6.30 M684.90,392.74 h6.30 M980.50,392.74 h-6.30 M684.90,381.02 h6.30 M980.50,381.02 h-6.30 M684.90,369.30 h12.60 M980.50,369.30 h-12.60 M684.90,357.58 h6.30 M980.50,357.58 h-6.30 M684.90,345.86 h6.30 M980.50,345.86 h-6.30 M684.90,334.14 h6.30 M980.50,334.14 h-6.30 M684.90,322.42 h6.30 M980.50,322.42 h-6.30" fill="none" stroke="#000" stroke-width="1.10"/>
<g clip-path="url(#ct2)" fill="none" stroke-width="1.25" stroke-linejoin="round">
<path d="M684.90,303.20 C685.17,303.20 685.32,303.94 686.55,303.20 C687.77,302.46 690.22,300.74 692.25,298.77 C694.28,296.79 696.58,293.96 698.75,291.37 C700.92,288.79 703.08,286.13 705.25,283.27 C707.42,280.42 709.58,277.21 711.75,274.23 C713.92,271.24 716.26,268.34 718.30,265.36 C720.34,262.37 722.38,258.63 724.00,256.31 C725.62,253.99 726.83,252.57 728.05,251.46 C729.27,250.36 730.22,249.44 731.30,249.69 C732.38,249.93 733.46,250.87 734.55,252.94 C735.64,255.01 736.62,259.10 737.85,262.10 C739.08,265.11 740.41,268.12 741.90,270.97 C743.39,273.83 745.03,276.79 746.80,279.25 C748.57,281.72 750.47,283.74 752.50,285.76 C754.53,287.78 756.56,289.75 759.00,291.37 C761.44,293.00 764.17,294.28 767.15,295.51 C770.13,296.74 773.64,297.95 776.90,298.77 C780.16,299.58 782.90,299.93 786.70,300.42 C790.50,300.91 794.54,301.36 799.70,301.72 C804.86,302.09 810.95,302.36 817.65,302.61 C824.35,302.86 812.61,303.10 839.90,303.20 C867.19,303.30 957.82,303.20 981.40,303.20" stroke="#00ff00" stroke-width="1.5"/>
<path d="M684.90,303.20 C685.72,301.23 688.31,296.06 689.80,291.37 C691.29,286.69 692.50,280.83 693.85,275.11 C695.20,269.40 696.54,263.07 697.90,257.08 C699.26,251.09 700.64,244.88 702.00,239.16 C703.36,233.45 704.82,227.14 706.05,222.78 C707.27,218.43 708.48,215.64 709.35,213.03 C710.22,210.42 710.43,209.87 711.25,207.11 C712.07,204.35 713.07,199.72 714.25,196.47 C715.43,193.22 716.85,190.56 718.35,187.60 C719.85,184.64 721.62,181.18 723.25,178.73 C724.88,176.28 726.79,174.12 728.15,172.91 C729.51,171.69 730.32,171.57 731.40,171.46 C732.48,171.35 733.57,171.01 734.65,172.23 C735.73,173.44 736.81,176.02 737.90,178.73 C738.99,181.44 740.11,184.99 741.20,188.49 C742.29,191.99 743.55,196.62 744.45,199.72 C745.35,202.83 745.67,203.27 746.60,207.11 C747.53,210.96 748.80,217.98 750.05,222.78 C751.30,227.58 752.61,231.52 754.10,235.91 C755.59,240.30 757.37,245.03 759.00,249.10 C760.63,253.17 762.41,257.08 763.90,260.33 C765.39,263.58 766.32,266.15 767.95,268.61 C769.57,271.07 771.62,272.95 773.65,275.11 C775.68,277.28 777.71,279.52 780.15,281.62 C782.59,283.71 785.58,285.99 788.30,287.68 C791.02,289.37 793.46,290.50 796.45,291.76 C799.44,293.01 802.72,294.24 806.25,295.22 C809.78,296.20 813.85,296.97 817.65,297.64 C821.45,298.32 826.17,298.93 829.05,299.27 C831.92,299.60 829.76,299.35 834.90,299.65 C840.04,299.95 851.57,300.72 859.90,301.07 C868.23,301.43 876.57,301.56 884.90,301.78 C893.23,302.00 901.57,302.18 909.90,302.37 C918.23,302.56 927.40,302.77 934.90,302.90 C942.40,303.04 947.15,303.15 954.90,303.20 C962.65,303.25 976.98,303.20 981.40,303.20" stroke="#ff0000" stroke-width="1.5"/>
<path d="M684.90,303.20 C685.57,299.88 687.72,290.66 688.95,283.27 C690.17,275.88 691.30,266.20 692.25,258.85 C693.20,251.50 693.84,245.72 694.65,239.16 C695.46,232.61 696.39,224.87 697.10,219.53 C697.81,214.19 698.08,212.58 698.90,207.11 C699.72,201.64 700.98,192.82 702.05,186.71 C703.12,180.60 704.08,175.87 705.30,170.45 C706.52,165.03 707.99,158.77 709.35,154.19 C710.71,149.61 711.95,146.21 713.45,142.96 C714.95,139.71 716.72,136.72 718.35,134.68 C719.98,132.63 721.62,131.43 723.25,130.69 C724.88,129.95 726.52,130.24 728.15,130.24 C729.77,130.24 731.51,130.39 733.00,130.69 C734.49,130.98 735.73,131.21 737.10,132.02 C738.47,132.83 739.84,133.89 741.20,135.57 C742.56,137.24 743.89,139.51 745.25,142.07 C746.61,144.63 747.99,147.29 749.35,150.94 C750.71,154.59 752.04,159.32 753.40,163.95 C754.76,168.58 756.14,173.58 757.50,178.73 C758.86,183.88 760.38,190.11 761.55,194.84 C762.72,199.57 763.48,202.70 764.55,207.11 C765.62,211.52 766.70,217.17 767.95,221.30 C769.20,225.44 770.56,228.30 772.05,231.95 C773.54,235.59 775.01,239.24 776.90,243.18 C778.79,247.13 781.23,251.90 783.40,255.60 C785.57,259.30 787.73,262.50 789.90,265.36 C792.07,268.21 794.00,270.43 796.45,272.75 C798.90,275.06 801.88,277.36 804.60,279.25 C807.32,281.14 809.77,282.61 812.75,284.10 C815.73,285.59 818.81,286.92 822.50,288.18 C826.19,289.44 830.88,290.69 834.90,291.67 C838.92,292.65 842.48,293.27 846.65,294.03 C850.82,294.80 853.52,295.41 859.90,296.25 C866.27,297.09 876.57,298.37 884.90,299.06 C893.23,299.75 901.57,299.98 909.90,300.39 C918.23,300.81 926.57,301.27 934.90,301.54 C943.23,301.82 952.15,301.88 959.90,302.02 C967.65,302.16 977.82,302.31 981.40,302.37" stroke="#0000ff"/>
<path d="M684.90,303.20 C685.44,299.33 687.20,287.38 688.15,279.99 C689.10,272.60 689.78,266.22 690.60,258.85 C691.42,251.49 692.23,243.18 693.05,235.79 C693.87,228.40 694.92,219.28 695.50,214.50 C696.08,209.73 696.01,211.45 696.55,207.11 C697.09,202.78 697.83,194.84 698.75,188.49 C699.67,182.13 700.96,174.69 702.05,168.97 C703.14,163.26 704.08,158.95 705.30,154.19 C706.52,149.44 707.99,144.09 709.35,140.44 C710.71,136.80 711.95,134.36 713.45,132.31 C714.95,130.27 716.86,128.99 718.35,128.18 C719.84,127.36 721.04,127.29 722.40,127.44 C723.76,127.58 725.00,128.40 726.50,129.06 C728.00,129.73 729.77,130.79 731.40,131.43 C733.03,132.07 734.67,132.61 736.30,132.91 C737.93,133.20 739.57,133.08 741.20,133.20 C742.82,133.32 744.42,133.07 746.05,133.62 C747.67,134.16 749.32,135.19 750.95,136.45 C752.58,137.71 754.22,139.02 755.85,141.18 C757.48,143.35 759.25,146.46 760.75,149.46 C762.25,152.47 763.49,155.42 764.85,159.22 C766.21,163.01 767.54,168.19 768.90,172.23 C770.26,176.27 771.64,179.15 773.00,183.46 C774.36,187.77 775.95,194.15 777.05,198.10 C778.15,202.04 778.54,203.54 779.60,207.11 C780.66,210.69 781.95,215.54 783.40,219.53 C784.85,223.52 786.38,227.12 788.30,231.06 C790.22,235.00 792.72,239.54 794.90,243.18 C797.08,246.83 798.92,249.79 801.35,252.94 C803.78,256.09 806.78,259.35 809.50,262.10 C812.22,264.86 814.93,267.43 817.65,269.50 C820.37,271.57 822.92,272.90 825.80,274.52 C828.67,276.15 831.42,277.70 834.90,279.25 C838.38,280.80 842.48,282.38 846.65,283.83 C850.82,285.29 855.52,286.87 859.90,287.97 C864.27,289.08 868.73,289.74 872.90,290.49 C877.07,291.23 880.82,291.80 884.90,292.44 C888.98,293.08 893.23,293.82 897.40,294.33 C901.57,294.84 905.82,295.12 909.90,295.51 C913.98,295.91 917.73,296.33 921.90,296.70 C926.07,297.07 930.48,297.42 934.90,297.73 C939.32,298.04 944.23,298.31 948.40,298.56 C952.57,298.81 954.40,298.96 959.90,299.24 C965.40,299.52 977.82,300.08 981.40,300.24" stroke="#000"/>
</g>
<g clip-path="url(#cb2)" fill="none" stroke-width="1.25" stroke-linejoin="round">
<path d="M684.90,545.10 C685.70,543.85 688.02,540.85 689.70,537.59 C691.37,534.34 693.38,529.24 694.95,525.57 C696.52,521.91 697.64,519.14 699.10,515.60 C700.56,512.06 702.17,508.06 703.70,504.34 C705.22,500.61 706.75,496.95 708.25,493.25 C709.75,489.55 711.17,485.84 712.70,482.16 C714.22,478.49 715.65,474.84 717.40,471.19 C719.15,467.55 721.48,463.32 723.20,460.28 C724.92,457.25 726.37,454.61 727.70,452.99 C729.03,451.37 730.15,450.62 731.20,450.54 C732.25,450.46 732.84,450.46 734.00,452.52 C735.16,454.58 736.95,459.52 738.15,462.91 C739.35,466.29 740.09,469.31 741.20,472.83 C742.31,476.35 743.38,480.34 744.80,484.03 C746.22,487.73 747.98,491.54 749.70,495.00 C751.42,498.46 753.06,501.45 755.10,504.80 C757.14,508.16 759.90,512.43 761.95,515.14 C764.00,517.86 765.63,519.31 767.40,521.07 C769.17,522.83 769.91,523.91 772.55,525.70 C775.19,527.49 779.68,530.04 783.25,531.82 C786.82,533.60 790.30,535.25 793.95,536.40 C797.60,537.56 801.41,538.10 805.15,538.75 C808.89,539.39 812.58,539.79 816.40,540.28 C820.22,540.78 824.20,541.33 828.10,541.70 C832.00,542.07 836.00,542.30 839.80,542.52 C843.60,542.74 846.91,542.86 850.90,543.04 C854.89,543.21 858.08,543.39 863.75,543.58 C869.42,543.76 877.21,543.97 884.90,544.16 C892.59,544.36 901.57,544.61 909.90,544.75 C918.23,544.89 922.98,544.92 934.90,544.98 C946.82,545.04 973.65,545.08 981.40,545.10" stroke="#000" stroke-dasharray="3.9 7.4" stroke-width="1.2"/>
<path d="M684.90,545.10 C685.82,543.41 688.77,538.76 690.45,534.97 C692.13,531.18 693.48,526.93 695.00,522.35 C696.52,517.77 698.07,512.65 699.60,507.49 C701.13,502.32 702.67,496.56 704.20,491.38 C705.73,486.21 707.27,481.41 708.80,476.45 C710.32,471.48 711.83,466.15 713.35,461.57 C714.88,456.98 716.42,453.16 717.95,448.95 C719.48,444.75 721.21,440.16 722.55,436.34 C723.89,432.52 725.04,428.70 726.00,426.03 C726.96,423.36 727.52,421.85 728.28,420.31 C729.04,418.78 729.79,416.81 730.55,416.81 C731.31,416.81 731.97,418.21 732.85,420.31 C733.73,422.42 734.89,425.84 735.85,429.46 C736.81,433.09 737.57,437.68 738.60,442.08 C739.63,446.47 740.71,450.87 742.05,455.84 C743.39,460.81 745.10,466.92 746.62,471.89 C748.15,476.87 749.45,480.89 751.20,485.66 C752.95,490.44 755.20,496.26 757.15,500.56 C759.10,504.86 761.19,508.73 762.90,511.46 C764.61,514.20 766.22,515.59 767.40,516.97 C768.58,518.36 768.72,518.46 770.00,519.78 C771.28,521.11 773.40,523.45 775.10,524.94 C776.80,526.44 778.50,527.70 780.20,528.76 C781.90,529.82 783.60,530.54 785.30,531.31 C787.00,532.07 787.85,532.50 790.40,533.34 C792.95,534.19 797.20,535.55 800.60,536.40 C804.00,537.25 807.42,537.85 810.80,538.44 C814.18,539.04 817.51,539.52 820.90,539.98 C824.29,540.44 827.74,540.86 831.15,541.20 C834.56,541.54 837.95,541.78 841.35,542.02 C844.75,542.26 848.15,542.47 851.55,542.64 C854.95,542.81 858.27,542.91 861.75,543.04 C865.23,543.16 868.54,543.27 872.40,543.40 C876.26,543.53 878.65,543.64 884.90,543.81 C891.15,543.98 901.57,544.24 909.90,544.40 C918.23,544.55 926.57,544.65 934.90,544.75 C943.23,544.85 952.15,544.92 959.90,544.98 C967.65,545.04 977.82,545.08 981.40,545.10" stroke="#000"/>
<path d="M689.05,521.67 L701.85,508.13 L714.55,483.80 L727.80,452.87 L739.55,474.87 L753.80,501.24 L767.30,510.17 L780.15,515.92 L789.15,518.22 L804.55,522.81 L816.30,524.64 L829.05,526.69 L842.80,528.03 L858.30,530.29 L866.30,531.11 L884.05,532.58 L893.30,533.07 L903.05,533.23 L913.30,533.72 L935.80,535.03 L947.40,535.38 L959.55,535.84 L972.40,536.49 L981.05,536.78" stroke="#ff0000"/>
<path d="M686.45,519.07h5.2v5.2h-5.2zM699.25,505.53h5.2v5.2h-5.2zM711.95,481.20h5.2v5.2h-5.2zM725.20,450.27h5.2v5.2h-5.2zM736.95,472.27h5.2v5.2h-5.2zM751.20,498.64h5.2v5.2h-5.2zM764.70,507.57h5.2v5.2h-5.2zM777.55,513.32h5.2v5.2h-5.2zM786.55,515.62h5.2v5.2h-5.2zM801.95,520.21h5.2v5.2h-5.2zM813.70,522.04h5.2v5.2h-5.2zM826.45,524.09h5.2v5.2h-5.2zM840.20,525.43h5.2v5.2h-5.2zM855.70,527.69h5.2v5.2h-5.2zM863.70,528.51h5.2v5.2h-5.2zM881.45,529.98h5.2v5.2h-5.2zM890.70,530.47h5.2v5.2h-5.2zM900.45,530.63h5.2v5.2h-5.2zM910.70,531.12h5.2v5.2h-5.2zM933.20,532.43h5.2v5.2h-5.2zM944.80,532.78h5.2v5.2h-5.2zM956.95,533.24h5.2v5.2h-5.2zM969.80,533.89h5.2v5.2h-5.2z" fill="#ff0000" stroke="none"/>
</g>
<text x="684.90" y="569.60" font-family="Liberation Serif" font-size="19.5" text-anchor="middle" fill="#000" font-weight="normal" >0</text>
<text x="784.90" y="569.60" font-family="Liberation Serif" font-size="19.5" text-anchor="middle" fill="#000" font-weight="normal" >2</text>
<text x="884.90" y="569.60" font-family="Liberation Serif" font-size="19.5" text-anchor="middle" fill="#000" font-weight="normal" >4</text>
<text x="799.60" y="595.90" font-family="Liberation Serif" font-size="22.0" text-anchor="start" fill="#000" font-weight="normal" textLength="7.3" lengthAdjust="spacingAndGlyphs" >t</text>
<text x="808.30" y="602.50" font-family="Liberation Sans" font-size="12.5" text-anchor="start" fill="#000" font-weight="normal" textLength="21.0" lengthAdjust="spacingAndGlyphs" stroke="#000" stroke-width="0.35" >obs</text>
<path d="M846.10,580.60 h-4.40 v19.40 h4.40" fill="none" stroke="#000" stroke-width="1.05"/>
<text x="847.50" y="595.90" font-family="Liberation Serif" font-size="20.0" text-anchor="start" fill="#000" font-weight="normal" textLength="10.2" lengthAdjust="spacingAndGlyphs" >s</text>
<path d="M859.70,580.60 h4.40 v19.40 h-4.40" fill="none" stroke="#000" stroke-width="1.05"/>
<path d="M929.80,27.50 h-4.40 v19.90 h4.40" fill="none" stroke="#000" stroke-width="1.05"/>
<text x="932.80" y="43.10" font-family="Liberation Serif" font-size="19.5" text-anchor="start" fill="#000" font-weight="normal" textLength="23.7" lengthAdjust="spacingAndGlyphs" >2d</text>
<text x="957.10" y="48.30" font-family="Liberation Serif" font-size="12.5" text-anchor="start" fill="#000" font-weight="normal" stroke="#000" stroke-width="0.25" >l</text>
<path d="M962.10,27.50 h4.40 v19.90 h-4.40" fill="none" stroke="#000" stroke-width="1.05"/>
<path d="M929.80,332.30 h-4.40 v19.90 h4.40" fill="none" stroke="#000" stroke-width="1.05"/>
<text x="932.80" y="347.90" font-family="Liberation Serif" font-size="19.5" text-anchor="start" fill="#000" font-weight="normal" textLength="23.7" lengthAdjust="spacingAndGlyphs" >2d</text>
<text x="957.10" y="353.10" font-family="Liberation Serif" font-size="12.5" text-anchor="start" fill="#000" font-weight="normal" stroke="#000" stroke-width="0.25" >l</text>
<path d="M962.10,332.30 h4.40 v19.90 h-4.40" fill="none" stroke="#000" stroke-width="1.05"/>
<text x="63.40" y="309.90" font-family="Liberation Serif" font-size="19.5" text-anchor="end" fill="#000" font-weight="normal" >0</text>
<text x="63.40" y="250.77" font-family="Liberation Serif" font-size="19.5" text-anchor="end" fill="#000" font-weight="normal" textLength="29.3" lengthAdjust="spacingAndGlyphs" >0.2</text>
<text x="63.40" y="191.64" font-family="Liberation Serif" font-size="19.5" text-anchor="end" fill="#000" font-weight="normal" textLength="29.3" lengthAdjust="spacingAndGlyphs" >0.4</text>
<text x="63.40" y="132.51" font-family="Liberation Serif" font-size="19.5" text-anchor="end" fill="#000" font-weight="normal" textLength="29.3" lengthAdjust="spacingAndGlyphs" >0.6</text>
<text x="63.40" y="73.38" font-family="Liberation Serif" font-size="19.5" text-anchor="end" fill="#000" font-weight="normal" textLength="29.3" lengthAdjust="spacingAndGlyphs" >0.8</text>
<text x="63.40" y="14.25" font-family="Liberation Serif" font-size="19.5" text-anchor="end" fill="#000" font-weight="normal" >1</text>
<text x="63.40" y="551.80" font-family="Liberation Serif" font-size="19.5" text-anchor="end" fill="#000" font-weight="normal" >0</text>
<text x="63.40" y="493.20" font-family="Liberation Serif" font-size="19.5" text-anchor="end" fill="#000" font-weight="normal" textLength="29.3" lengthAdjust="spacingAndGlyphs" >0.5</text>
<text x="63.40" y="434.60" font-family="Liberation Serif" font-size="19.5" text-anchor="end" fill="#000" font-weight="normal" >1</text>
<text x="63.40" y="376.00" font-family="Liberation Serif" font-size="19.5" text-anchor="end" fill="#000" font-weight="normal" textLength="28.4" lengthAdjust="spacingAndGlyphs" >1.5</text>
<g transform="translate(16.6,201.3) rotate(-90)">
<text x="0.00" y="0.00" font-family="Liberation Serif" font-size="20.0" text-anchor="start" fill="#000" font-weight="normal" textLength="12.4" lengthAdjust="spacingAndGlyphs" >F</text>
<text x="14.00" y="5.60" font-family="Liberation Serif" font-size="15.0" text-anchor="start" fill="#000" font-weight="normal" textLength="9.0" lengthAdjust="spacingAndGlyphs" font-style="italic">ν</text>
<path d="M38.00,-15.60 h-4.40 v19.90 h4.40" fill="none" stroke="#000" stroke-width="1.05"/>
<text x="40.70" y="0.00" font-family="Liberation Serif" font-size="20.0" text-anchor="start" fill="#000" font-weight="normal" textLength="39.8" lengthAdjust="spacingAndGlyphs" >mJy</text>
<path d="M82.90,-15.60 h4.40 v19.90 h-4.40" fill="none" stroke="#000" stroke-width="1.05"/>
</g>
<g transform="translate(14.1,466.4) rotate(-90)">
<text x="0.00" y="0.00" font-family="Liberation Serif" font-size="20.0" text-anchor="start" fill="#000" font-weight="normal" textLength="44.9" lengthAdjust="spacingAndGlyphs" >flux,</text>
<text x="54.00" y="0.00" font-family="Liberation Serif" font-size="20.0" text-anchor="start" fill="#000" font-weight="normal" textLength="12.5" lengthAdjust="spacingAndGlyphs" >E</text>
<text x="68.00" y="5.20" font-family="Liberation Serif" font-size="12.5" text-anchor="start" fill="#000" font-weight="normal" textLength="7.4" lengthAdjust="spacingAndGlyphs" >p</text>
</g>
<text x="159.60" y="45.80" font-family="Liberation Serif" font-size="16.5" text-anchor="start" fill="#000" font-weight="normal" textLength="9.4" lengthAdjust="spacingAndGlyphs" stroke="#000" stroke-width="0.45" >h</text>
<text x="170.20" y="45.80" font-family="Liberation Serif" font-size="17.5" text-anchor="start" fill="#000" font-weight="normal" textLength="8.8" lengthAdjust="spacingAndGlyphs" stroke="#000" stroke-width="0.45" font-style="italic">ν</text>
<text x="180.20" y="50.20" font-family="Liberation Sans" font-size="10.5" text-anchor="start" fill="#000" font-weight="bold" textLength="17.8" lengthAdjust="spacingAndGlyphs" >obs</text>
<text x="199.60" y="45.80" font-family="Liberation Serif" font-size="16.5" text-anchor="start" fill="#000" font-weight="normal" textLength="10.4" lengthAdjust="spacingAndGlyphs" stroke="#000" stroke-width="0.45" >=</text>
<text x="215.00" y="45.80" font-family="Liberation Serif" font-size="16.5" text-anchor="start" fill="#00ff00" font-weight="normal" >1</text>
<text x="231.50" y="45.80" font-family="Liberation Serif" font-size="16.5" text-anchor="start" fill="#00ff00" font-weight="normal" textLength="31.8" lengthAdjust="spacingAndGlyphs" >MeV</text>
<text x="212.90" y="64.80" font-family="Liberation Serif" font-size="16.5" text-anchor="start" fill="#ff0000" font-weight="normal" textLength="31.0" lengthAdjust="spacingAndGlyphs" stroke="#ff0000" stroke-width="0.45" >300</text>
<text x="252.30" y="64.80" font-family="Liberation Serif" font-size="16.5" text-anchor="start" fill="#ff0000" font-weight="normal" textLength="29.4" lengthAdjust="spacingAndGlyphs" stroke="#ff0000" stroke-width="0.45" >keV</text>
<text x="214.60" y="83.60" font-family="Liberation Serif" font-size="16.5" text-anchor="start" fill="#0000ff" font-weight="normal" textLength="28.6" lengthAdjust="spacingAndGlyphs" stroke="#0000ff" stroke-width="0.45" >100</text>
<text x="252.30" y="83.60" font-family="Liberation Serif" font-size="16.5" text-anchor="start" fill="#0000ff" font-weight="normal" textLength="29.4" lengthAdjust="spacingAndGlyphs" stroke="#0000ff" stroke-width="0.45" >keV</text>
<text x="212.90" y="101.60" font-family="Liberation Serif" font-size="16.5" text-anchor="start" fill="#000" font-weight="normal" textLength="18.8" lengthAdjust="spacingAndGlyphs" stroke="#000" stroke-width="0.45" >30</text>
<text x="241.30" y="101.60" font-family="Liberation Serif" font-size="16.5" text-anchor="start" fill="#000" font-weight="normal" textLength="29.8" lengthAdjust="spacingAndGlyphs" stroke="#000" stroke-width="0.45" >keV</text>
<text x="97.10" y="347.30" font-family="Liberation Serif" font-size="17.5" text-anchor="start" fill="#ff0000" font-weight="normal" textLength="8.2" lengthAdjust="spacingAndGlyphs" stroke="#ff0000" stroke-width="0.30" >E</text>
<text x="106.40" y="351.20" font-family="Liberation Serif" font-size="11.0" text-anchor="start" fill="#ff0000" font-weight="bold" textLength="6.4" lengthAdjust="spacingAndGlyphs" >p</text>
<path d="M126.90,333.00 h-4.20 v16.10 h4.20" fill="none" stroke="#ff0000" stroke-width="1.40"/>
<text x="130.60" y="347.30" font-family="Liberation Serif" font-size="17.5" text-anchor="start" fill="#ff0000" font-weight="normal" stroke="#ff0000" stroke-width="0.30" >1</text>
<text x="148.00" y="347.30" font-family="Liberation Serif" font-size="17.5" text-anchor="start" fill="#ff0000" font-weight="normal" textLength="32.2" lengthAdjust="spacingAndGlyphs" stroke="#ff0000" stroke-width="0.30" >MeV</text>
<path d="M181.60,333.00 h4.20 v16.10 h-4.20" fill="none" stroke="#ff0000" stroke-width="1.40"/>
<text x="96.60" y="375.70" font-family="Liberation Serif" font-size="17.5" text-anchor="start" fill="#000" font-weight="normal" textLength="32.0" lengthAdjust="spacingAndGlyphs" stroke="#000" stroke-width="0.30" >flux</text>
<path d="M143.90,361.80 h-4.00 v16.70 h4.00" fill="none" stroke="#000" stroke-width="1.30"/>
<text x="146.00" y="375.70" font-family="Liberation Serif" font-size="17.5" text-anchor="start" fill="#000" font-weight="normal" textLength="40.6" lengthAdjust="spacingAndGlyphs" stroke="#000" stroke-width="0.30" >2×10</text>
<text x="187.30" y="368.60" font-family="Liberation Sans" font-size="10.5" text-anchor="start" fill="#000" font-weight="bold" textLength="14.6" lengthAdjust="spacingAndGlyphs" >−6</text>
<text x="210.20" y="375.70" font-family="Liberation Serif" font-size="17.5" text-anchor="start" fill="#000" font-weight="normal" textLength="64.6" lengthAdjust="spacingAndGlyphs" stroke="#000" stroke-width="0.30" >erg/cm</text>
<text x="275.40" y="368.60" font-family="Liberation Sans" font-size="10.5" text-anchor="start" fill="#000" font-weight="bold" >2</text>
<text x="283.20" y="375.70" font-family="Liberation Serif" font-size="17.5" text-anchor="start" fill="#000" font-weight="normal" textLength="18.2" lengthAdjust="spacingAndGlyphs" stroke="#000" stroke-width="0.30" >/s</text>
<path d="M303.20,361.80 h4.00 v16.70 h-4.00" fill="none" stroke="#000" stroke-width="1.30"/>
<rect x="214.50" y="395.90" width="130.80" height="88.80" fill="#fff"/>
<clipPath id="ci0"><rect x="214.50" y="395.90" width="130.80" height="88.80"/></clipPath>
<g clip-path="url(#ci0)" fill="none" stroke-width="1.2" stroke-linejoin="round">
<path d="M214.50,482.65 C216.32,481.79 221.33,479.88 225.40,477.46 C229.47,475.03 234.76,471.39 238.92,468.10 C243.08,464.81 247.07,461.01 250.36,457.72 C253.65,454.43 256.05,451.47 258.64,448.36 C261.24,445.25 263.70,441.65 265.95,439.07 C268.20,436.49 270.27,434.24 272.16,432.85 C274.05,431.47 275.56,431.02 277.28,430.74 C279.01,430.45 280.44,430.62 282.52,431.15 C284.59,431.67 287.13,432.56 289.71,433.88 C292.29,435.20 295.21,437.17 297.99,439.07 C300.77,440.97 303.61,443.21 306.39,445.29 C309.17,447.36 311.91,449.43 314.67,451.50 C317.43,453.57 319.85,455.71 322.96,457.72 C326.06,459.72 329.59,461.73 333.31,463.52 C337.03,465.32 343.30,467.68 345.30,468.51" stroke="#000"/>
<path d="M214.50,477.05 L216.64,476.57 L218.75,475.42 L220.93,474.43 L223.00,473.43 L225.18,472.28 L227.75,470.85 L230.85,469.15 L233.74,467.01 L236.58,464.86 L239.44,463.73 L242.99,460.59 L246.55,457.58 L249.82,454.44 L253.41,450.61 L257.23,446.88 L261.52,442.31 L265.80,438.05 L270.35,432.75 L275.06,432.61 L280.04,437.75 L285.02,444.88 L290.44,448.74 L296.14,454.44 L301.84,457.72 L308.24,462.02 L314.52,464.72 L321.32,467.01 L328.49,469.43 L335.60,471.14 L343.45,472.86 L345.30,473.22" stroke="#ff0000" stroke-width="1.3"/>
<path d="M215.04,474.97h3.2v3.2h-3.2zM217.15,473.82h3.2v3.2h-3.2zM219.33,472.83h3.2v3.2h-3.2zM221.40,471.83h3.2v3.2h-3.2zM223.58,470.68h3.2v3.2h-3.2zM226.15,469.25h3.2v3.2h-3.2zM229.25,467.55h3.2v3.2h-3.2zM232.14,465.41h3.2v3.2h-3.2zM234.98,463.26h3.2v3.2h-3.2zM237.84,462.13h3.2v3.2h-3.2zM241.39,458.99h3.2v3.2h-3.2zM244.95,455.98h3.2v3.2h-3.2zM248.22,452.84h3.2v3.2h-3.2zM251.81,449.01h3.2v3.2h-3.2zM255.63,445.28h3.2v3.2h-3.2zM259.92,440.71h3.2v3.2h-3.2zM264.20,436.45h3.2v3.2h-3.2zM268.75,431.15h3.2v3.2h-3.2zM273.46,431.01h3.2v3.2h-3.2zM278.44,436.15h3.2v3.2h-3.2zM283.42,443.28h3.2v3.2h-3.2zM288.84,447.14h3.2v3.2h-3.2zM294.54,452.84h3.2v3.2h-3.2zM300.24,456.12h3.2v3.2h-3.2zM306.64,460.42h3.2v3.2h-3.2zM312.92,463.12h3.2v3.2h-3.2zM319.72,465.41h3.2v3.2h-3.2zM326.89,467.83h3.2v3.2h-3.2zM334.00,469.54h3.2v3.2h-3.2zM341.85,471.26h3.2v3.2h-3.2z" fill="#ff0000" stroke="none"/>
</g>
<path d="M214.50,395.90 H345.30 V484.70 H214.50 Z" fill="none" stroke="#000" stroke-width="1.00"/>
<path d=" M225.40,484.70 v-9.00 M225.40,395.90 v9.00 M236.30,484.70 v-4.60 M236.30,395.90 v4.60 M247.20,484.70 v-4.60 M247.20,395.90 v4.60 M258.10,484.70 v-4.60 M258.10,395.90 v4.60 M269.00,484.70 v-4.60 M269.00,395.90 v4.60 M279.90,484.70 v-9.00 M279.90,395.90 v9.00 M290.80,484.70 v-4.60 M290.80,395.90 v4.60 M301.70,484.70 v-4.60 M301.70,395.90 v4.60 M312.60,484.70 v-4.60 M312.60,395.90 v4.60 M323.50,484.70 v-4.60 M323.50,395.90 v4.60 M334.40,484.70 v-9.00 M334.40,395.90 v9.00 M214.50,477.87 h4.60 M345.30,477.87 h-4.60 M214.50,471.04 h4.60 M345.30,471.04 h-4.60 M214.50,464.21 h4.60 M345.30,464.21 h-4.60 M214.50,457.38 h9.00 M345.30,457.38 h-9.00 M214.50,450.55 h4.60 M345.30,450.55 h-4.60 M214.50,443.72 h4.60 M345.30,443.72 h-4.60 M214.50,436.88 h4.60 M345.30,436.88 h-4.60 M214.50,430.05 h4.60 M345.30,430.05 h-4.60 M214.50,423.22 h9.00 M345.30,423.22 h-9.00 M214.50,416.39 h4.60 M345.30,416.39 h-4.60 M214.50,409.56 h4.60 M345.30,409.56 h-4.60 M214.50,402.73 h4.60 M345.30,402.73 h-4.60" fill="none" stroke="#000" stroke-width="1.00"/>
<text x="225.90" y="501.60" font-family="Liberation Serif" font-size="13.3" text-anchor="middle" fill="#000" font-weight="normal" textLength="19.0" lengthAdjust="spacingAndGlyphs" >0.5</text>
<text x="279.90" y="501.60" font-family="Liberation Serif" font-size="13.3" text-anchor="middle" fill="#000" font-weight="normal" >1</text>
<text x="334.90" y="501.60" font-family="Liberation Serif" font-size="13.3" text-anchor="middle" fill="#000" font-weight="normal" textLength="18.6" lengthAdjust="spacingAndGlyphs" >1.5</text>
<text x="205.90" y="461.88" font-family="Liberation Serif" font-size="13.3" text-anchor="end" fill="#000" font-weight="normal" textLength="19.0" lengthAdjust="spacingAndGlyphs" >0.5</text>
<text x="205.90" y="427.72" font-family="Liberation Serif" font-size="13.3" text-anchor="end" fill="#000" font-weight="normal" >1</text>
<rect x="519.40" y="374.90" width="130.30" height="88.10" fill="#fff"/>
<clipPath id="ci1"><rect x="519.40" y="374.90" width="130.30" height="88.10"/></clipPath>
<g clip-path="url(#ci1)" fill="none" stroke-width="1.2" stroke-linejoin="round">
<path d="M519.40,454.29 C521.23,452.91 526.46,448.93 530.37,445.99 C534.28,443.05 539.04,439.78 542.85,436.67 C546.66,433.57 549.77,430.63 553.22,427.35 C556.68,424.07 560.83,419.82 563.59,416.98 C566.35,414.15 567.88,412.24 569.78,410.34 C571.68,408.45 573.33,406.64 574.99,405.60 C576.66,404.56 578.22,404.11 579.77,404.11 C581.33,404.11 582.19,404.49 584.33,405.60 C586.48,406.71 589.88,408.85 592.65,410.75 C595.42,412.65 598.18,414.74 600.95,416.98 C603.71,419.23 606.47,421.82 609.24,424.24 C612.01,426.65 614.80,429.31 617.56,431.49 C620.32,433.67 623.04,435.52 625.81,437.32 C628.58,439.11 631.40,440.75 634.17,442.26 C636.94,443.78 639.84,445.19 642.42,446.40 C645.01,447.61 648.49,448.99 649.70,449.51" stroke="#000"/>
<path d="M519.40,451.61 L520.81,450.46 L522.98,449.45 L525.12,448.59 L527.71,447.62 L530.15,446.46 L532.97,444.30 L535.87,443.01 L538.73,441.58 L541.59,439.48 L544.74,437.32 L548.03,435.04 L551.32,433.05 L554.91,429.45 L558.78,427.62 L562.62,423.35 L566.63,419.09 L570.94,416.21 L575.54,411.63 L579.83,414.07 L584.84,419.09 L590.28,423.35 L595.73,429.45 L601.02,433.05 L607.14,437.59 L613.22,440.46 L619.62,443.31 L626.46,444.45 L633.63,446.87 L641.12,448.73 L648.56,449.72 L649.70,449.85" stroke="#ff0000" stroke-width="1.3"/>
<path d="M519.21,448.86h3.2v3.2h-3.2zM521.38,447.85h3.2v3.2h-3.2zM523.52,446.99h3.2v3.2h-3.2zM526.11,446.02h3.2v3.2h-3.2zM528.55,444.86h3.2v3.2h-3.2zM531.37,442.70h3.2v3.2h-3.2zM534.27,441.41h3.2v3.2h-3.2zM537.13,439.98h3.2v3.2h-3.2zM539.99,437.88h3.2v3.2h-3.2zM543.14,435.72h3.2v3.2h-3.2zM546.43,433.44h3.2v3.2h-3.2zM549.72,431.45h3.2v3.2h-3.2zM553.31,427.85h3.2v3.2h-3.2zM557.18,426.02h3.2v3.2h-3.2zM561.02,421.75h3.2v3.2h-3.2zM565.03,417.49h3.2v3.2h-3.2zM569.34,414.61h3.2v3.2h-3.2zM573.94,410.03h3.2v3.2h-3.2zM578.23,412.47h3.2v3.2h-3.2zM583.24,417.49h3.2v3.2h-3.2zM588.68,421.75h3.2v3.2h-3.2zM594.13,427.85h3.2v3.2h-3.2zM599.42,431.45h3.2v3.2h-3.2zM605.54,435.99h3.2v3.2h-3.2zM611.62,438.86h3.2v3.2h-3.2zM618.02,441.71h3.2v3.2h-3.2zM624.86,442.85h3.2v3.2h-3.2zM632.03,445.27h3.2v3.2h-3.2zM639.52,447.13h3.2v3.2h-3.2zM646.96,448.12h3.2v3.2h-3.2z" fill="#ff0000" stroke="none"/>
</g>
<path d="M519.40,374.90 H649.70 V463.00 H519.40 Z" fill="none" stroke="#000" stroke-width="1.00"/>
<path d=" M530.26,463.00 v-9.00 M530.26,374.90 v9.00 M541.12,463.00 v-4.60 M541.12,374.90 v4.60 M551.98,463.00 v-4.60 M551.98,374.90 v4.60 M562.83,463.00 v-4.60 M562.83,374.90 v4.60 M573.69,463.00 v-4.60 M573.69,374.90 v4.60 M584.55,463.00 v-9.00 M584.55,374.90 v9.00 M595.41,463.00 v-4.60 M595.41,374.90 v4.60 M606.27,463.00 v-4.60 M606.27,374.90 v4.60 M617.12,463.00 v-4.60 M617.12,374.90 v4.60 M627.98,463.00 v-4.60 M627.98,374.90 v4.60 M638.84,463.00 v-9.00 M638.84,374.90 v9.00 M519.40,456.22 h4.60 M649.70,456.22 h-4.60 M519.40,449.45 h4.60 M649.70,449.45 h-4.60 M519.40,442.67 h4.60 M649.70,442.67 h-4.60 M519.40,435.89 h9.00 M649.70,435.89 h-9.00 M519.40,429.12 h4.60 M649.70,429.12 h-4.60 M519.40,422.34 h4.60 M649.70,422.34 h-4.60 M519.40,415.56 h4.60 M649.70,415.56 h-4.60 M519.40,408.78 h4.60 M649.70,408.78 h-4.60 M519.40,402.01 h9.00 M649.70,402.01 h-9.00 M519.40,395.23 h4.60 M649.70,395.23 h-4.60 M519.40,388.45 h4.60 M649.70,388.45 h-4.60 M519.40,381.68 h4.60 M649.70,381.68 h-4.60" fill="none" stroke="#000" stroke-width="1.00"/>
<text x="530.76" y="479.90" font-family="Liberation Serif" font-size="13.3" text-anchor="middle" fill="#000" font-weight="normal" textLength="19.0" lengthAdjust="spacingAndGlyphs" >0.5</text>
<text x="584.55" y="479.90" font-family="Liberation Serif" font-size="13.3" text-anchor="middle" fill="#000" font-weight="normal" >1</text>
<text x="639.34" y="479.90" font-family="Liberation Serif" font-size="13.3" text-anchor="middle" fill="#000" font-weight="normal" textLength="18.6" lengthAdjust="spacingAndGlyphs" >1.5</text>
<text x="510.80" y="440.39" font-family="Liberation Serif" font-size="13.3" text-anchor="end" fill="#000" font-weight="normal" textLength="19.0" lengthAdjust="spacingAndGlyphs" >0.5</text>
<text x="510.80" y="406.51" font-family="Liberation Serif" font-size="13.3" text-anchor="end" fill="#000" font-weight="normal" >1</text>
<rect x="824.40" y="374.90" width="130.30" height="88.10" fill="#fff"/>
<clipPath id="ci2"><rect x="824.40" y="374.90" width="130.30" height="88.10"/></clipPath>
<g clip-path="url(#ci2)" fill="none" stroke-width="1.2" stroke-linejoin="round">
<path d="M824.40,439.78 C826.23,438.23 831.80,433.58 835.37,430.47 C838.93,427.36 842.33,423.89 845.79,421.12 C849.25,418.35 852.65,416.45 856.11,413.87 C859.56,411.28 863.42,408.02 866.53,405.60 C869.64,403.18 872.54,401.00 874.78,399.36 C877.03,397.73 878.60,396.22 879.99,395.77 C881.39,395.32 881.59,395.89 883.14,396.65 C884.70,397.42 886.92,398.38 889.33,400.38 C891.75,402.39 894.88,405.75 897.65,408.68 C900.42,411.62 903.18,415.06 905.95,418.00 C908.71,420.94 911.47,423.71 914.24,426.31 C917.01,428.91 919.80,431.34 922.56,433.59 C925.32,435.83 928.04,437.88 930.81,439.78 C933.58,441.68 936.40,443.49 939.17,444.97 C941.94,446.46 944.84,447.56 947.42,448.70 C950.01,449.84 953.49,451.30 954.70,451.82" stroke="#000"/>
<path d="M824.40,446.53 L825.81,445.95 L827.98,444.81 L830.12,443.82 L832.71,442.40 L835.15,441.25 L837.97,439.82 L840.87,437.67 L843.73,436.23 L846.59,434.81 L849.74,433.11 L853.03,430.97 L856.32,429.54 L859.91,427.69 L863.06,423.42 L867.07,420.98 L871.36,418.84 L875.94,416.27 L880.54,414.14 L884.83,414.14 L889.84,419.15 L894.98,425.55 L900.58,429.83 L906.02,433.38 L912.14,437.96 L918.22,439.55 L924.62,442.26 L931.46,444.84 L938.63,446.26 L946.12,447.68 L953.56,449.11 L954.70,449.24" stroke="#ff0000" stroke-width="1.3"/>
<path d="M824.21,444.35h3.2v3.2h-3.2zM826.38,443.21h3.2v3.2h-3.2zM828.52,442.22h3.2v3.2h-3.2zM831.11,440.80h3.2v3.2h-3.2zM833.55,439.65h3.2v3.2h-3.2zM836.37,438.22h3.2v3.2h-3.2zM839.27,436.07h3.2v3.2h-3.2zM842.13,434.63h3.2v3.2h-3.2zM844.99,433.21h3.2v3.2h-3.2zM848.14,431.51h3.2v3.2h-3.2zM851.43,429.37h3.2v3.2h-3.2zM854.72,427.94h3.2v3.2h-3.2zM858.31,426.09h3.2v3.2h-3.2zM861.46,421.82h3.2v3.2h-3.2zM865.47,419.38h3.2v3.2h-3.2zM869.76,417.24h3.2v3.2h-3.2zM874.34,414.67h3.2v3.2h-3.2zM878.94,412.54h3.2v3.2h-3.2zM883.23,412.54h3.2v3.2h-3.2zM888.24,417.55h3.2v3.2h-3.2zM893.38,423.95h3.2v3.2h-3.2zM898.98,428.23h3.2v3.2h-3.2zM904.42,431.78h3.2v3.2h-3.2zM910.54,436.36h3.2v3.2h-3.2zM916.62,437.95h3.2v3.2h-3.2zM923.02,440.66h3.2v3.2h-3.2zM929.86,443.24h3.2v3.2h-3.2zM937.03,444.66h3.2v3.2h-3.2zM944.52,446.08h3.2v3.2h-3.2zM951.96,447.51h3.2v3.2h-3.2z" fill="#ff0000" stroke="none"/>
</g>
<path d="M824.40,374.90 H954.70 V463.00 H824.40 Z" fill="none" stroke="#000" stroke-width="1.00"/>
<path d=" M835.26,463.00 v-9.00 M835.26,374.90 v9.00 M846.12,463.00 v-4.60 M846.12,374.90 v4.60 M856.98,463.00 v-4.60 M856.98,374.90 v4.60 M867.83,463.00 v-4.60 M867.83,374.90 v4.60 M878.69,463.00 v-4.60 M878.69,374.90 v4.60 M889.55,463.00 v-9.00 M889.55,374.90 v9.00 M900.41,463.00 v-4.60 M900.41,374.90 v4.60 M911.27,463.00 v-4.60 M911.27,374.90 v4.60 M922.12,463.00 v-4.60 M922.12,374.90 v4.60 M932.98,463.00 v-4.60 M932.98,374.90 v4.60 M943.84,463.00 v-9.00 M943.84,374.90 v9.00 M824.40,456.22 h4.60 M954.70,456.22 h-4.60 M824.40,449.45 h4.60 M954.70,449.45 h-4.60 M824.40,442.67 h4.60 M954.70,442.67 h-4.60 M824.40,435.89 h9.00 M954.70,435.89 h-9.00 M824.40,429.12 h4.60 M954.70,429.12 h-4.60 M824.40,422.34 h4.60 M954.70,422.34 h-4.60 M824.40,415.56 h4.60 M954.70,415.56 h-4.60 M824.40,408.78 h4.60 M954.70,408.78 h-4.60 M824.40,402.01 h9.00 M954.70,402.01 h-9.00 M824.40,395.23 h4.60 M954.70,395.23 h-4.60 M824.40,388.45 h4.60 M954.70,388.45 h-4.60 M824.40,381.68 h4.60 M954.70,381.68 h-4.60" fill="none" stroke="#000" stroke-width="1.00"/>
<text x="835.76" y="479.90" font-family="Liberation Serif" font-size="13.3" text-anchor="middle" fill="#000" font-weight="normal" textLength="19.0" lengthAdjust="spacingAndGlyphs" >0.5</text>
<text x="889.55" y="479.90" font-family="Liberation Serif" font-size="13.3" text-anchor="middle" fill="#000" font-weight="normal" >1</text>
<text x="944.34" y="479.90" font-family="Liberation Serif" font-size="13.3" text-anchor="middle" fill="#000" font-weight="normal" textLength="18.6" lengthAdjust="spacingAndGlyphs" >1.5</text>
<text x="815.80" y="440.39" font-family="Liberation Serif" font-size="13.3" text-anchor="end" fill="#000" font-weight="normal" textLength="19.0" lengthAdjust="spacingAndGlyphs" >0.5</text>
<text x="815.80" y="406.51" font-family="Liberation Serif" font-size="13.3" text-anchor="end" fill="#000" font-weight="normal" >1</text>
</svg>
</body></html>
